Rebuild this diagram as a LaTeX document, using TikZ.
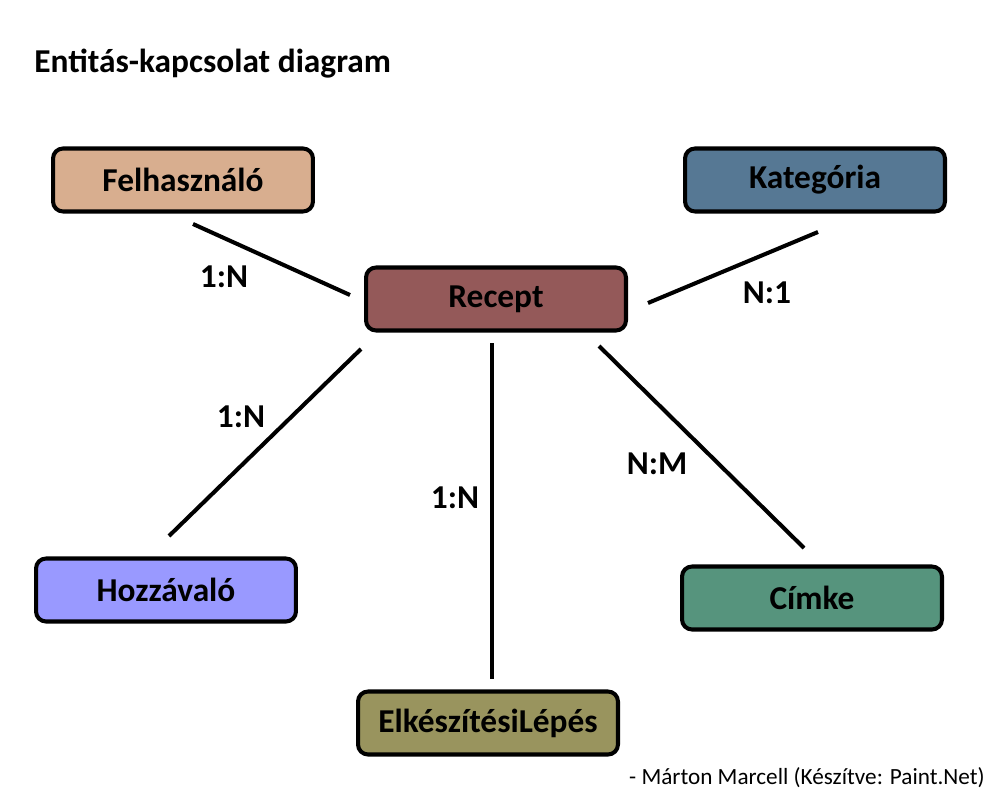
\documentclass[tikz,border=0pt]{standalone}
\usepackage{fontspec}
\setmainfont{Carlito}
\definecolor{felcol}{RGB}{216,174,143}
\definecolor{katcol}{RGB}{86,120,148}
\definecolor{reccol}{RGB}{148,89,89}
\definecolor{hozcol}{RGB}{153,153,255}
\definecolor{cimcol}{RGB}{86,148,125}
\definecolor{elkcol}{RGB}{153,148,94}
\begin{document}
\begin{tikzpicture}[x=0.02cm,y=-0.02cm,
	entity/.style={draw,line width=2.3pt,rounded corners=0.2cm,minimum width=5.2cm,minimum height=1.26cm,inner sep=0pt,font=\fontsize{19}{22}\selectfont\bfseries},
	rel/.style={font=\fontsize{19}{22}\selectfont\bfseries},
	kapcs/.style={line width=2.3pt}]
\useasboundingbox (0,0) rectangle (1000,800);
\node at (34,64) [anchor=west,inner sep=0pt,rel] (cim) {Entitás-kapcsolat diagram};
\node at (183,180) [entity,fill=felcol] (fel) {Felhasználó};
\node at (815,180) [entity,fill=katcol] (kat) {Kategória};
\node at (496,299) [entity,fill=reccol] (rec) {Recept};
\node at (166,590) [entity,fill=hozcol] (hoz) {Hozzávaló};
\node at (812,598) [entity,fill=cimcol] (cimke) {Címke};
\node at (488,723) [entity,fill=elkcol] (elk) {ElkészítésiLépés};
% vonalak vegpontjai
\coordinate (fel-a) at (193,224);
\coordinate (fel-b) at (350,295);
\coordinate (kat-a) at (818,232);
\coordinate (kat-b) at (648,303);
\coordinate (hoz-a) at (361,349);
\coordinate (hoz-b) at (169,536);
\coordinate (elk-a) at (492,343);
\coordinate (elk-b) at (492,679);
\coordinate (cimke-a) at (599,346);
\coordinate (cimke-b) at (804,548);
\draw[kapcs] (fel-a) -- (fel-b);
\draw[kapcs] (kat-a) -- (kat-b);
\draw[kapcs] (hoz-a) -- (hoz-b);
\draw[kapcs] (elk-a) -- (elk-b);
\draw[kapcs] (cimke-a) -- (cimke-b);
\node at (224,277) [rel] (r1) {1:N};
\node at (767,293) [rel] (r2) {N:1};
\node at (241,417) [rel] (r3) {1:N};
\node at (455,498) [rel] (r4) {1:N};
\node at (657,464) [rel] (r5) {N:M};
\node at (985,778) [anchor=east,inner sep=0pt,font=\fontsize{13.2}{16}\selectfont] (szerzo) {- Márton Marcell (Készítve: Paint.Net)};
\end{tikzpicture}
\end{document}
